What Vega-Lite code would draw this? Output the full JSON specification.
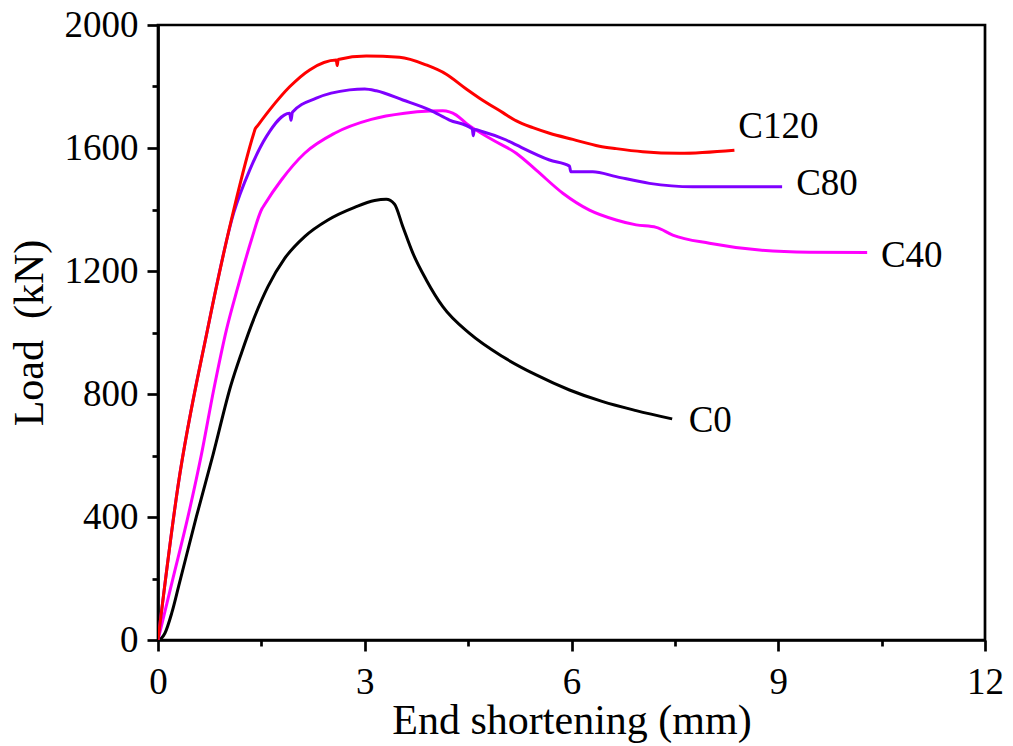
{
  "$schema": "https://vega.github.io/schema/vega-lite/v6.json",
  "width": 827,
  "height": 615,
  "autosize": {"type": "none"},
  "padding": {"left": 158, "top": 25, "right": 28, "bottom": 106},
  "background": "white",
  "config": {
    "view": {"stroke": "black", "strokeWidth": 2.7},
    "font": "Liberation Serif",
    "axis": {"grid": false, "tickColor": "black", "tickWidth": 2.7, "domainColor": "black", "domainWidth": 2.7, "labelColor": "black", "titleColor": "black", "labelFont": "Liberation Serif", "titleFont": "Liberation Serif", "titleFontWeight": "normal", "labelFlush": false, "labelOverlap": false}
  },
  "datasets": {
    "curves": [
      {"s": "C0", "x": 0, "y": 0},
      {"s": "C0", "x": 0.05, "y": 6},
      {"s": "C0", "x": 0.1, "y": 22},
      {"s": "C0", "x": 0.2, "y": 88},
      {"s": "C0", "x": 0.3, "y": 175},
      {"s": "C0", "x": 0.557, "y": 401},
      {"s": "C0", "x": 0.798, "y": 602},
      {"s": "C0", "x": 1.06, "y": 830},
      {"s": "C0", "x": 1.209, "y": 932},
      {"s": "C0", "x": 1.402, "y": 1051},
      {"s": "C0", "x": 1.595, "y": 1149},
      {"s": "C0", "x": 1.838, "y": 1241},
      {"s": "C0", "x": 2.128, "y": 1312},
      {"s": "C0", "x": 2.466, "y": 1366},
      {"s": "C0", "x": 2.853, "y": 1407},
      {"s": "C0", "x": 3.143, "y": 1429},
      {"s": "C0", "x": 3.312, "y": 1433},
      {"s": "C0", "x": 3.43, "y": 1418},
      {"s": "C0", "x": 3.553, "y": 1344},
      {"s": "C0", "x": 3.698, "y": 1258},
      {"s": "C0", "x": 3.893, "y": 1171},
      {"s": "C0", "x": 4.133, "y": 1084},
      {"s": "C0", "x": 4.521, "y": 997},
      {"s": "C0", "x": 5.004, "y": 921},
      {"s": "C0", "x": 5.488, "y": 862},
      {"s": "C0", "x": 5.971, "y": 813},
      {"s": "C0", "x": 6.454, "y": 775},
      {"s": "C0", "x": 6.938, "y": 746},
      {"s": "C0", "x": 7.461, "y": 719},
      {"s": "C40", "x": 0, "y": 0},
      {"s": "C40", "x": 0.218, "y": 201},
      {"s": "C40", "x": 0.435, "y": 401},
      {"s": "C40", "x": 0.629, "y": 602},
      {"s": "C40", "x": 0.812, "y": 818},
      {"s": "C40", "x": 0.992, "y": 1008},
      {"s": "C40", "x": 1.16, "y": 1149},
      {"s": "C40", "x": 1.355, "y": 1301},
      {"s": "C40", "x": 1.51, "y": 1403},
      {"s": "C40", "x": 1.54, "y": 1414},
      {"s": "C40", "x": 1.79, "y": 1496},
      {"s": "C40", "x": 2.128, "y": 1583},
      {"s": "C40", "x": 2.563, "y": 1648},
      {"s": "C40", "x": 3.095, "y": 1693},
      {"s": "C40", "x": 3.578, "y": 1713},
      {"s": "C40", "x": 3.95, "y": 1720},
      {"s": "C40", "x": 4.133, "y": 1721},
      {"s": "C40", "x": 4.328, "y": 1707},
      {"s": "C40", "x": 4.473, "y": 1680},
      {"s": "C40", "x": 4.859, "y": 1626},
      {"s": "C40", "x": 5.198, "y": 1583},
      {"s": "C40", "x": 5.488, "y": 1528},
      {"s": "C40", "x": 5.874, "y": 1453},
      {"s": "C40", "x": 6.261, "y": 1398},
      {"s": "C40", "x": 6.648, "y": 1366},
      {"s": "C40", "x": 6.938, "y": 1350},
      {"s": "C40", "x": 7.228, "y": 1342},
      {"s": "C40", "x": 7.469, "y": 1317},
      {"s": "C40", "x": 8.001, "y": 1290},
      {"s": "C40", "x": 8.727, "y": 1268},
      {"s": "C40", "x": 9.452, "y": 1261},
      {"s": "C40", "x": 10.29, "y": 1260},
      {"s": "C80", "x": 0, "y": 0},
      {"s": "C80", "x": 0.29, "y": 500},
      {"s": "C80", "x": 0.71, "y": 1000},
      {"s": "C80", "x": 1.1, "y": 1390},
      {"s": "C80", "x": 1.33, "y": 1528},
      {"s": "C80", "x": 1.572, "y": 1637},
      {"s": "C80", "x": 1.91, "y": 1713},
      {"s": "C80", "x": 1.93, "y": 1690},
      {"s": "C80", "x": 1.95, "y": 1716},
      {"s": "C80", "x": 2.297, "y": 1762},
      {"s": "C80", "x": 2.78, "y": 1789},
      {"s": "C80", "x": 3.0, "y": 1792},
      {"s": "C80", "x": 3.168, "y": 1786},
      {"s": "C80", "x": 3.553, "y": 1756},
      {"s": "C80", "x": 3.94, "y": 1724},
      {"s": "C80", "x": 4.23, "y": 1691},
      {"s": "C80", "x": 4.56, "y": 1662},
      {"s": "C80", "x": 4.575, "y": 1640},
      {"s": "C80", "x": 4.59, "y": 1660},
      {"s": "C80", "x": 4.714, "y": 1653},
      {"s": "C80", "x": 5.053, "y": 1626},
      {"s": "C80", "x": 5.198, "y": 1610},
      {"s": "C80", "x": 5.681, "y": 1561},
      {"s": "C80", "x": 5.971, "y": 1541},
      {"s": "C80", "x": 5.99, "y": 1523},
      {"s": "C80", "x": 6.309, "y": 1523},
      {"s": "C80", "x": 6.648, "y": 1507},
      {"s": "C80", "x": 7.131, "y": 1485},
      {"s": "C80", "x": 7.759, "y": 1474},
      {"s": "C80", "x": 9.056, "y": 1474},
      {"s": "C120", "x": 0, "y": 0},
      {"s": "C120", "x": 0.29, "y": 500},
      {"s": "C120", "x": 0.71, "y": 1000},
      {"s": "C120", "x": 1.1, "y": 1400},
      {"s": "C120", "x": 1.39, "y": 1648},
      {"s": "C120", "x": 1.41, "y": 1662},
      {"s": "C120", "x": 1.44, "y": 1671},
      {"s": "C120", "x": 1.62, "y": 1724},
      {"s": "C120", "x": 1.91, "y": 1799},
      {"s": "C120", "x": 2.2, "y": 1854},
      {"s": "C120", "x": 2.587, "y": 1886},
      {"s": "C120", "x": 2.6, "y": 1868},
      {"s": "C120", "x": 2.615, "y": 1888},
      {"s": "C120", "x": 3.022, "y": 1899},
      {"s": "C120", "x": 3.505, "y": 1895},
      {"s": "C120", "x": 3.893, "y": 1870},
      {"s": "C120", "x": 4.183, "y": 1840},
      {"s": "C120", "x": 4.473, "y": 1792},
      {"s": "C120", "x": 4.666, "y": 1762},
      {"s": "C120", "x": 5.004, "y": 1715},
      {"s": "C120", "x": 5.2, "y": 1688},
      {"s": "C120", "x": 5.439, "y": 1666},
      {"s": "C120", "x": 5.681, "y": 1648},
      {"s": "C120", "x": 6.019, "y": 1628},
      {"s": "C120", "x": 6.406, "y": 1606},
      {"s": "C120", "x": 6.648, "y": 1598},
      {"s": "C120", "x": 7.034, "y": 1588},
      {"s": "C120", "x": 7.566, "y": 1583},
      {"s": "C120", "x": 8.364, "y": 1593}
    ],
    "labels": [
      {"label": "C120", "x": 8.42, "y": 1667},
      {"label": "C80", "x": 9.26, "y": 1483},
      {"label": "C40", "x": 10.49, "y": 1249},
      {"label": "C0", "x": 7.7, "y": 712}
    ]
  },
  "resolve": {"axis": {"x": "independent", "y": "independent"}},
  "layer": [
    {
      "data": {"name": "curves"},
      "mark": {"type": "line", "strokeWidth": 3, "strokeJoin": "round", "interpolate": "monotone", "clip": true},
      "encoding": {
        "x": {"field": "x", "type": "quantitative", "scale": {"domain": [0, 12], "nice": false, "zero": false},
          "axis": {"values": [0, 3, 6, 9, 12], "format": "d", "orient": "bottom", "title": "End shortening (mm)", "tickSize": 11, "labelFontSize": 37, "labelPadding": 13, "titleFontSize": 42, "titleBaseline": "alphabetic", "titleY": 93}},
        "y": {"field": "y", "type": "quantitative", "scale": {"domain": [0, 2000], "nice": false, "zero": false},
          "axis": {"values": [0, 400, 800, 1200, 1600, 2000], "format": "d", "orient": "left", "title": "Load\u00a0 (kN)", "tickSize": 11, "labelFontSize": 37, "labelPadding": 9, "titleFontSize": 42, "titleBaseline": "alphabetic", "titleX": -116}},
        "color": {"field": "s", "type": "nominal", "scale": {"domain": ["C0", "C40", "C80", "C120"], "range": ["#000000", "#FF00FF", "#7F00FF", "#FF0000"]}, "legend": null}
      }
    },
    {
      "data": {"name": "labels"},
      "mark": {"type": "text", "align": "left", "baseline": "middle", "fontSize": 37, "font": "Liberation Serif", "color": "black"},
      "encoding": {
        "x": {"field": "x", "type": "quantitative", "scale": {"domain": [0, 12], "nice": false, "zero": false},
          "axis": {"values": [1.5, 4.5, 7.5, 10.5], "orient": "bottom", "tickSize": 6, "labels": false, "domain": false, "title": null}},
        "y": {"field": "y", "type": "quantitative", "scale": {"domain": [0, 2000], "nice": false, "zero": false},
          "axis": {"values": [200, 600, 1000, 1400, 1800], "orient": "left", "tickSize": 6, "labels": false, "domain": false, "title": null}},
        "text": {"field": "label", "type": "nominal"}
      }
    }
  ]
}
